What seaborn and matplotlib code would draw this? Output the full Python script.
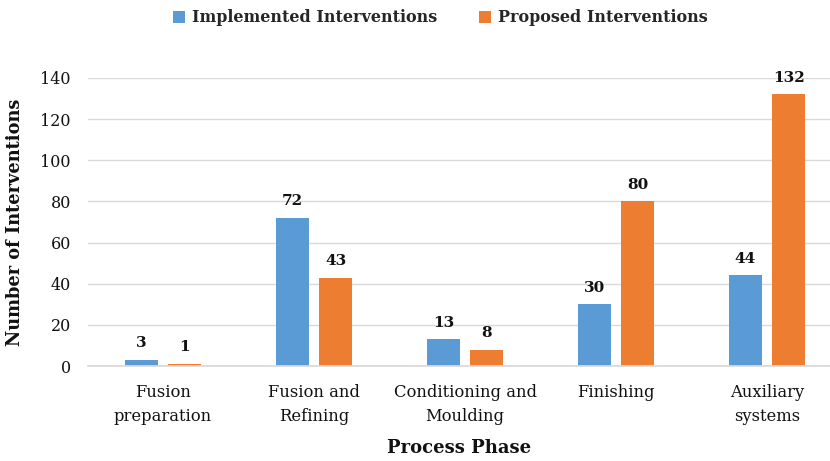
import matplotlib
matplotlib.use("Agg")
import matplotlib.pyplot as plt
import seaborn as sns
import pandas as pd

# Interventions per process phase
phases = ["Fusion\npreparation", "Fusion and\nRefining", "Conditioning and\nMoulding",
          "Finishing", "Auxiliary\nsystems"]
implemented = [3, 72, 13, 30, 44]
proposed = [1, 43, 8, 80, 132]
series_names = ["Implemented Interventions", "Proposed Interventions"]
palette = ["#5B9BD5", "#ED7D31"]

df = pd.DataFrame({
    "phase": phases * 2,
    "count": implemented + proposed,
    "series": [series_names[0]] * len(phases) + [series_names[1]] * len(phases),
})

sns.set_theme(style="white")
plt.rcParams["font.family"] = ["DejaVu Serif"]

fig = plt.figure(figsize=(8.3, 4.61), dpi=100)
ax = fig.add_axes([87.5 / 830, 95 / 461, 1 - 87.5 / 830, 288 / 461])

sns.barplot(data=df, x="phase", y="count", hue="series", palette=palette,
            width=0.573, gap=0.232, saturation=1, linewidth=0, ax=ax, legend=True)

ax.set_xlim(-0.5, 4.417)
ax.set_ylim(0, 140)
ax.set_yticks(range(0, 141, 20))
ax.yaxis.grid(True, color="#D9D9D9", linewidth=1.0)
ax.set_axisbelow(True)
for s in ["top", "right", "left"]:
    ax.spines[s].set_visible(False)
ax.spines["bottom"].set_color("#D9D9D9")
ax.tick_params(axis="both", length=0, colors="#111111")
ax.tick_params(axis="x", pad=13, labelsize=11.8)
ax.tick_params(axis="y", pad=12, labelsize=11.5)
for lbl in ax.get_xticklabels():
    lbl.set_linespacing(1.55)

ax.set_xlabel("Process Phase", fontsize=13, fontweight="bold", labelpad=10, color="#111111")
ax.set_ylabel("Number of Interventions", fontsize=12.8, fontweight="bold", labelpad=12, color="#111111")

for container in ax.containers:
    ax.bar_label(container, fmt="%d", padding=7, fontsize=11, fontweight="bold",
                 color="#111111", clip_on=False)

handles, labels = ax.get_legend_handles_labels()
ax.get_legend().remove()
fig.legend(handles, labels, loc="center", bbox_to_anchor=(440 / 830, 1 - 18 / 461),
           ncol=2, frameon=False, prop={"size": 11.5, "weight": "bold"},
           handlelength=0.8, handleheight=0.8, handletextpad=0.4, columnspacing=2.6)

fig.savefig("out.png", dpi=100)
